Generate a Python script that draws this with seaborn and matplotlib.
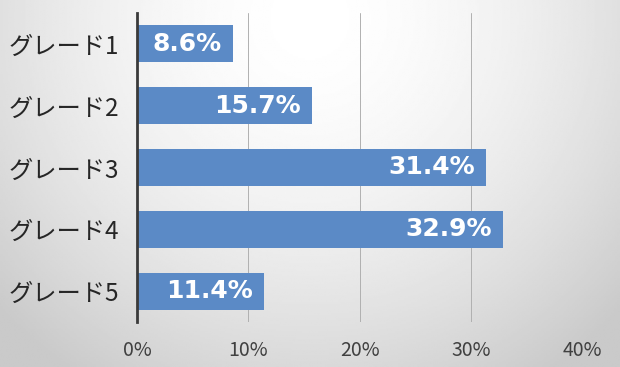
import numpy as np
import pandas as pd
import seaborn as sns
import matplotlib.pyplot as plt

# data
grades = ["グレード1", "グレード2", "グレード3", "グレード4", "グレード5"]
shares = [8.6, 15.7, 31.4, 32.9, 11.4]
ticks = [0, 10, 20, 30, 40]
tick_labels = ["0%", "10%", "20%", "30%", "40%"]

df = pd.DataFrame({"grade": grades, "share": shares})

sns.set_theme(style="white")
plt.rcParams["font.family"] = ["Noto Sans CJK JP", "DejaVu Sans"]

fig = plt.figure(figsize=(6.2, 3.67), dpi=100)

# gradient background
bg = fig.add_axes([0, 0, 1, 1], zorder=0)
yy, xx = np.mgrid[0:1:200j, 0:1:340j]
r = np.sqrt(((xx - 0.5) / 0.65) ** 2 + ((yy - 0.05) / 1.1) ** 2)
shade = np.clip(1.0 - 0.19 * r ** 1.7, 0.79, 1.0)
bg.imshow(shade, cmap="gray", vmin=0, vmax=1, aspect="auto", extent=[0, 1, 1, 0])
bg.set_axis_off()

ax = fig.add_axes([0.221, 0.1226, 0.718, 0.842], zorder=1)
ax.patch.set_alpha(0)

sns.barplot(data=df, x="share", y="grade", orient="h", color="#5b8ac6",
            saturation=1, width=0.6, linewidth=0, ax=ax, zorder=3)

ax.set_xlim(0, 40)
ax.set_ylim(4.5, -0.5)
ax.set_xticks(ticks)
ax.set_xticklabels(tick_labels, fontsize=14, color="#404040")
ax.tick_params(axis="y", labelsize=17.5, labelcolor="#262626", length=0, pad=13)
ax.tick_params(axis="x", length=0, pad=13)
ax.set_xlabel("")
ax.set_ylabel("")

ax.xaxis.grid(True, color="#b0b0b0", linewidth=0.7)
ax.set_axisbelow(True)
for s in ["top", "right", "bottom"]:
    ax.spines[s].set_visible(False)
ax.spines["left"].set_color("#3a3a3a")
ax.spines["left"].set_linewidth(2)
ax.spines["left"].set_zorder(5)

for i, v in enumerate(shares):
    ax.annotate(f"{v}%", xy=(v, i), xytext=(-8, 0), textcoords="offset points",
                ha="right", va="center", color="white", fontsize=18,
                fontweight="bold", family=["DejaVu Sans"], zorder=6)

fig.savefig("out.png", dpi=100)
